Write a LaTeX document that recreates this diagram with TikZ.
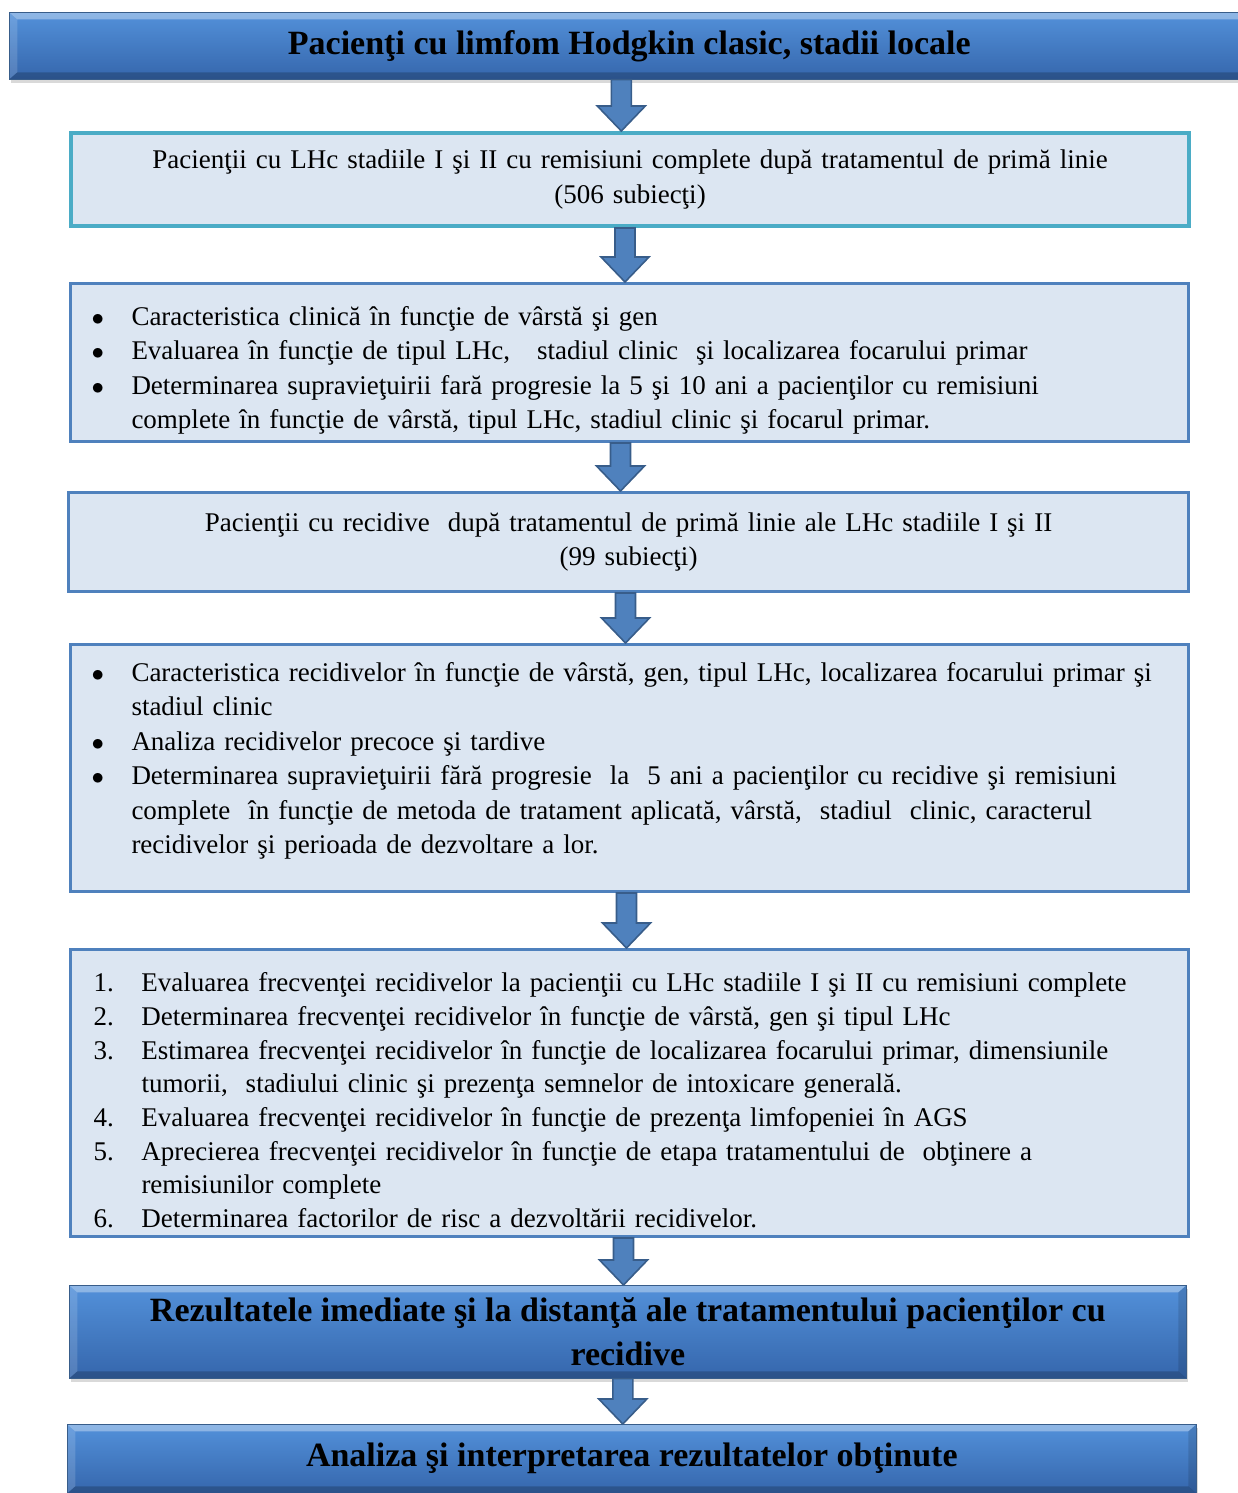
\documentclass[tikz,border=0pt]{standalone}
\usepackage{fontspec}
\setmainfont{Liberation Serif}
\usetikzlibrary{positioning,calc,shadows}
\definecolor{boxfill}{HTML}{DCE6F2}
\definecolor{boxline}{HTML}{4F81BD}
\definecolor{tealline}{HTML}{4BACC6}
\definecolor{bartop}{HTML}{5391DA}
\definecolor{barbot}{HTML}{3566AC}
\definecolor{arrline}{HTML}{385D8A}
\newcommand\bul{\par\noindent\hangindent=45pt\hangafter=1\makebox[45pt][l]{\hspace{5pt}$\bullet$}\ignorespaces}
\newcommand\nr[1]{\par\noindent\hangindent=55pt\hangafter=1\makebox[55pt][l]{\hspace{7pt}#1.}\ignorespaces}

\begin{document}
\begin{tikzpicture}[x=1pt,y=-1pt,
 txtbox/.style={draw=boxline,line width=3pt,fill=boxfill,anchor=north west,inner xsep=16pt,inner ysep=0pt,
  text width=1086pt,minimum width=1118pt,font=\fontsize{27}{34.5}\selectfont},
 bar/.style={top color=bartop,bottom color=barbot,draw=arrline,line width=.6pt,anchor=north west,
  inner sep=0pt,align=center,font=\fontsize{34}{44}\selectfont\bfseries,
  drop shadow={shadow xshift=2pt,shadow yshift=-4pt,opacity=.3},bevel},
 bevel/.style={path picture={
  \path (path picture bounding box.north west) coordinate (nw) (path picture bounding box.south east) coordinate (se)
   (nw|-se) coordinate (sw) (nw-|se) coordinate (ne);
  \fill[white,opacity=.35] (nw)--(ne)--([shift={(-8pt,-7pt)}]ne)--([shift={(8pt,-7pt)}]nw)--cycle;
  \fill[white,opacity=.15] (nw)--([shift={(8pt,-7pt)}]nw)--([shift={(8pt,7pt)}]sw)--(sw)--cycle;
  \fill[black,opacity=.2] (sw)--(se)--([shift={(-8pt,7pt)}]se)--([shift={(8pt,7pt)}]sw)--cycle;
  \fill[black,opacity=.12] (ne)--([shift={(-8pt,-7pt)}]ne)--([shift={(-8pt,7pt)}]se)--(se)--cycle;}},
 blockarr/.style={draw=arrline,fill=boxline,line width=1.6pt,
  to path={let \p1=(\tikztostart),\p2=(\tikztotarget) in
   (\x1-10pt,\y1)--(\x1+10pt,\y1)--(\x1+10pt,\y2+25pt)--(\x1+24pt,\y2+25pt)--(\x1,\y2)
   --(\x1-24pt,\y2+25pt)--(\x1-10pt,\y2+25pt)--cycle}}]
 \useasboundingbox (0,0) rectangle (1238,1493);

 \node[bar,minimum width=1240pt,minimum height=67pt] (top) at (9,12)
  {Pacienţi cu limfom Hodgkin clasic, stadii locale};
 \node[txtbox,draw=tealline,line width=4pt,align=center,minimum height=93pt] (b2) at (69,131)
  {Pacienţii cu LHc stadiile I şi II cu remisiuni complete după tratamentul de primă linie\\(506 subiecţi)};
 \node[txtbox,align=left,minimum height=158pt] (b3) at (69,282)
  {\bul Caracteristica clinică în funcţie de vârstă şi gen
   \bul Evaluarea în funcţie de tipul LHc,~~ stadiul clinic~ şi localizarea focarului primar
   \bul Determinarea supravieţuirii fară progresie la 5 şi 10 ani a pacienţilor cu remisiuni\newline
   complete în funcţie de vârstă, tipul LHc, stadiul clinic şi focarul primar.\par};
 \node[txtbox,align=center,minimum width=1120pt,minimum height=99pt] (b4) at (67,491)
  {Pacienţii cu recidive~ după tratamentul de primă linie ale LHc stadiile I şi II\\(99 subiecţi)};
 \node[txtbox,align=left,minimum height=247pt] (b5) at (69,643)
  {\bul Caracteristica recidivelor în funcţie de vârstă, gen, tipul LHc, localizarea focarului primar şi\newline
   stadiul clinic
   \bul Analiza recidivelor precoce şi tardive
   \bul Determinarea supravieţuirii fără progresie~ la~ 5 ani a pacienţilor cu recidive şi remisiuni\newline
   complete~ în funcţie de metoda de tratament aplicată, vârstă,~ stadiul~ clinic, caracterul\newline
   recidivelor şi perioada de dezvoltare a lor.\par\nointerlineskip\hbox{\vrule height 30pt width 0pt}};
 \node[txtbox,align=left,minimum height=287pt,font=\fontsize{27}{33.7}\selectfont] (b6) at (69,948)
  {\nr1 Evaluarea frecvenţei recidivelor la pacienţii cu LHc stadiile I şi II cu remisiuni complete
   \nr2 Determinarea frecvenţei recidivelor în funcţie de vârstă, gen şi tipul LHc
   \nr3 Estimarea frecvenţei recidivelor în funcţie de localizarea focarului primar, dimensiunile\newline
   tumorii,~ stadiului clinic şi prezenţa semnelor de intoxicare generală.
   \nr4 Evaluarea frecvenţei recidivelor în funcţie de prezenţa limfopeniei în AGS
   \nr5 Aprecierea frecvenţei recidivelor în funcţie de etapa tratamentului de~ obţinere a\newline
   remisiunilor complete
   \nr6 Determinarea factorilor de risc a dezvoltării recidivelor.\par};
 \node[bar,minimum width=1117pt,minimum height=93pt] (b7) at (69,1285)
  {Rezultatele imediate şi la distanţă ale tratamentului pacienţilor cu\\recidive};
 \node[bar,minimum width=1129pt,minimum height=69pt] (b8) at (67,1424)
  {Analiza şi interpretarea rezultatelor obţinute};

 \foreach \a/\b/\s in {top/b2/-8,b2/b3/-5,b3/b4/-9,b4/b5/-3,b5/b6/-3,b6/b7/-6,b7/b8/-5}
  \draw[blockarr] ([xshift=\s pt]\a.south) to (\b.north);
\end{tikzpicture}
\end{document}
